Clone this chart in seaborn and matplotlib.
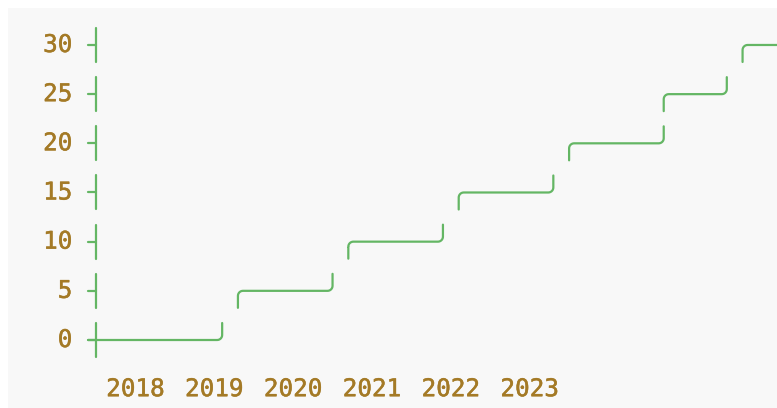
import numpy as np
import pandas as pd
import matplotlib
matplotlib.use("Agg")
import matplotlib.pyplot as plt
import matplotlib.patheffects as pe
import seaborn as sns

# =============================
# DATA
# =============================
years = ["2018", "2019", "2020", "2021", "2022", "2023"]
y_ticks = [0, 5, 10, 15, 20, 25, 30]
levels = [0, 5, 10, 15, 20, 25, 30]
step_start = [0, 9, 16, 23, 30, 36, 41]   # column where each level begins
step_end = [8, 15, 22, 29, 36, 40, 44]    # column where each level ends

GREEN = "#64b664"
GOLD = "#a47a26"
BG = "#f8f8f8"

# terminal-like grid: pixels per column / per value unit
CW = 15.77
RH = 49.17 / 5
HALF = 17 / RH
RX, RY = 5 / CW, 5 / RH

sns.set_style("white")
plt.rcParams["font.family"] = ["DejaVu Sans Mono"]

fig = plt.figure(figsize=(7.77, 4.08), dpi=100)
fig.patch.set_facecolor("white")
ax = fig.add_axes([8 / 777, 0, 769 / 777, 400 / 408])
ax.set_facecolor(BG)

# =============================
# BUILD STEP PATHS (rounded corners)
# =============================
rows = []
n = len(levels)
for i, (lv, s, e) in enumerate(zip(levels, step_start, step_end)):
    pts = []
    if i == 0:
        pts.append((-0.5, lv))
    else:
        pts.append((s, lv - HALF))
        pts.append((s, lv - RY))
        for t in np.linspace(np.pi, np.pi / 2, 8):
            pts.append((s + RX + RX * np.cos(t), lv - RY + RY * np.sin(t)))
    if i < n - 1:
        for t in np.linspace(-np.pi / 2, 0, 8):
            pts.append((e - RX + RX * np.cos(t), lv + RY + RY * np.sin(t)))
        pts.append((e, lv + HALF))
    else:
        pts.append((e, lv))
    for x, y in pts:
        rows.append({"x": x, "y": y, "seg": i})

df = pd.DataFrame(rows)

sns.lineplot(data=df, x="x", y="y", units="seg", estimator=None, sort=False,
             color=GREEN, lw=1.6, ax=ax, legend=False)

# axis with ┤ style ticks
stroke = [pe.withStroke(linewidth=0.35, foreground=GOLD)]
for v in y_ticks:
    ax.plot([0, 0], [v - HALF, v + HALF], color=GREEN, lw=1.6)
    ax.plot([-0.5, 0], [v, v], color=GREEN, lw=1.6)
    ax.text(-1.5, v, str(v), ha="right", va="center", color=GOLD,
            fontsize=17.5, path_effects=stroke)

for k, yr in enumerate(years):
    ax.text(2.5 + 5 * k, -5, yr, ha="center", va="center", color=GOLD,
            fontsize=17.5, path_effects=stroke)

ax.set_xlim((8 - 96) / CW, (777 - 96) / CW)
ax.set_ylim((340 - 408) / RH, (340 - 8) / RH)
ax.set_xticks([])
ax.set_yticks([])
ax.set_xlabel("")
ax.set_ylabel("")
for sp in ax.spines.values():
    sp.set_visible(False)

fig.savefig("out.png", dpi=100, facecolor="white")
